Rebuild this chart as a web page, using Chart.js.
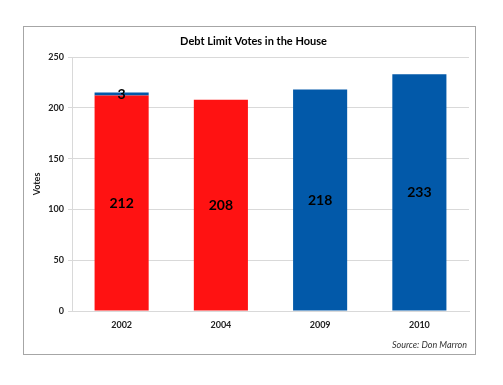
<!DOCTYPE html>
<html>
<head>
<meta charset="utf-8">
<script src="https://cdn.jsdelivr.net/npm/chart.js@4/dist/chart.umd.min.js"></script>
<style>
    html, body { margin: 0; padding: 0; background: #ffffff; }
    #box {
        position: absolute;
        left: 23px;
        top: 26px;
        width: 451px;
        height: 327px;
        border: 1px solid #a6a6a6;
        background: #ffffff;
    }
</style>
</head>
<body>
<div id="box"><canvas id="votosChart"></canvas></div>
<script>
const anos = ["2002", "2004", "2009", "2010"];
const republicanos = [212, 208, 0, 0];
const democratas = [3, 0, 218, 233];
const ticksY = [0, 50, 100, 150, 200, 250];

const titulo = "Debt Limit Votes in the House";
const tituloY = "Votes";
const fonte = "Source: Don Marron";

// escreve os valores no meio de cada segmento e os textos extras
const rotulosPlugin = {
    id: "rotulos",
    afterDatasetsDraw(chart) {
        const ctx = chart.ctx;
        ctx.save();
        ctx.fillStyle = "#000000";
        ctx.font = "bold 14px Lato, 'Open Sans', sans-serif";
        ctx.textAlign = "center";
        ctx.textBaseline = "middle";
        chart.data.datasets.forEach((ds, i) => {
            const meta = chart.getDatasetMeta(i);
            meta.data.forEach((bar, j) => {
                const v = ds.data[j];
                if (!v) return;
                const y = (bar.y + bar.base) / 2;
                ctx.fillText(String(v), bar.x, y);
            });
        });

        ctx.font = "bold 11px Lato, 'Open Sans', sans-serif";
        ctx.fillStyle = "#000000";
        ctx.fillText(titulo, chart.width / 2 + 4, 14);

        ctx.font = "italic 9px Lato, 'Open Sans', sans-serif";
        ctx.fillStyle = "#333333";
        ctx.textAlign = "right";
        ctx.fillText(fonte, chart.chartArea.right - 2, chart.height - 9);

        ctx.translate(13, (chart.chartArea.top + chart.chartArea.bottom) / 2);
        ctx.rotate(-Math.PI / 2);
        ctx.textAlign = "center";
        ctx.font = "bold 9px Lato, 'Open Sans', sans-serif";
        ctx.fillStyle = "#222222";
        ctx.fillText(tituloY, 0, 0);
        ctx.restore();
    }
};

const ctxVotos = document.getElementById("votosChart").getContext("2d");

let votosChart = new Chart(ctxVotos, {
    type: "bar",
    data: {
        labels: anos,
        datasets: [
            {
                label: "Republicans",
                data: republicanos,
                backgroundColor: "#ff1212",
                categoryPercentage: 1,
                barPercentage: 0.545
            },
            {
                label: "Democrats",
                data: democratas,
                backgroundColor: "#0259a9",
                categoryPercentage: 1,
                barPercentage: 0.545
            }
        ]
    },
    options: {
        responsive: true,
        maintainAspectRatio: false,
        animation: false,
        layout: {
            padding: { top: 30, right: 6, bottom: 0, left: 0 }
        },
        plugins: {
            legend: { display: false },
            tooltip: { enabled: false }
        },
        scales: {
            x: {
                stacked: true,
                grid: { display: false, drawTicks: false },
                border: { color: "#d9d9d9" },
                ticks: {
                    color: "#222222",
                    padding: 9,
                    font: { family: "Lato, 'Open Sans', sans-serif", size: 9, weight: "bold" }
                },
                afterFit(scale) { scale.height = 43; }
            },
            y: {
                stacked: true,
                min: 0,
                max: 250,
                afterBuildTicks(scale) {
                    scale.ticks = ticksY.map(v => ({ value: v }));
                },
                grid: { color: "#d9d9d9", tickLength: 4, tickColor: "#d9d9d9" },
                border: { color: "#d9d9d9" },
                ticks: {
                    color: "#222222",
                    padding: 4,
                    font: { family: "Lato, 'Open Sans', sans-serif", size: 9, weight: "bold" }
                },
                afterFit(scale) { scale.width = 48; }
            }
        }
    },
    plugins: [rotulosPlugin]
});
</script>
</body>
</html>
